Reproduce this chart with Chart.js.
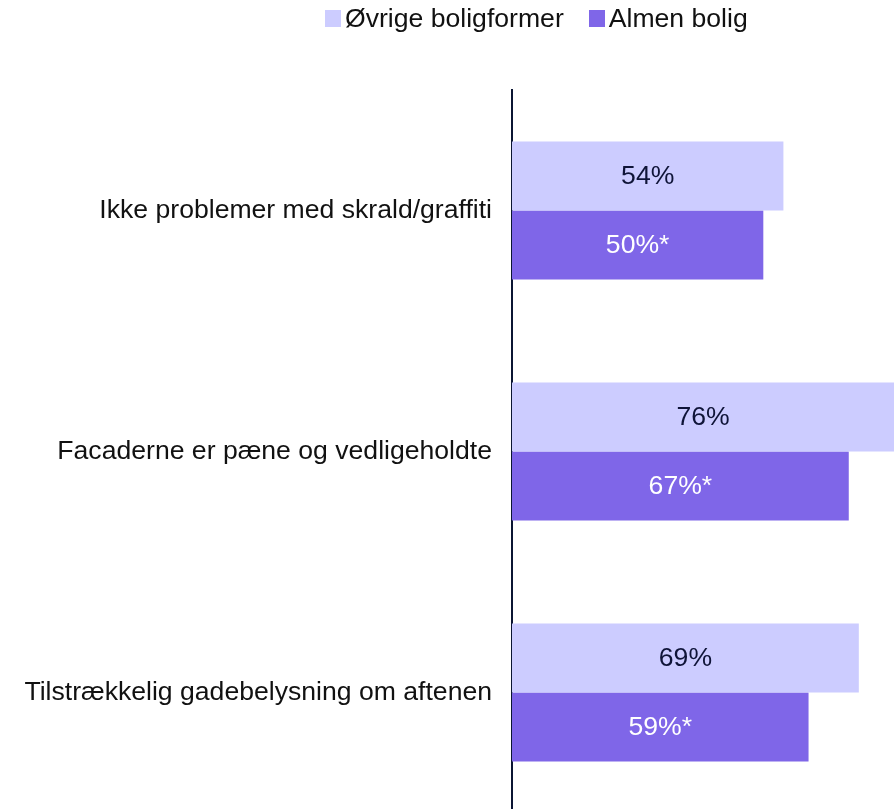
<!DOCTYPE html>
<html>
<head>
<meta charset="utf-8">
<script src="https://cdn.jsdelivr.net/npm/chart.js@4/dist/chart.umd.min.js"></script>
<style>
  html, body { margin: 0; padding: 0; background: #fff; overflow: hidden; }
  #wrap { position: relative; width: 894px; height: 813px; }
  #legend { position: absolute; left: 325px; top: 3px; display: flex; align-items: center;
    font-family: "Liberation Sans", Arial, sans-serif; font-size: 26.6px; color: #111; }
  #legend .item { display: flex; align-items: center; margin-right: 25px; }
  #legend .box { width: 16px; height: 17px; margin-right: 4px; }
</style>
</head>
<body>
<div id="wrap">
  <div id="legend"></div>
  <canvas id="chart" width="894" height="813"></canvas>
</div>
<script>
const categories = [
    'Ikke problemer med skrald/graffiti',
    'Facaderne er pæne og vedligeholdte',
    'Tilstrækkelig gadebelysning om aftenen'
];
const seriesNames = ['Øvrige boligformer', 'Almen bolig'];
const ovrige = [54, 76, 69];
const almen = [50, 67, 59];
const almenSuffix = ['*', '*', '*'];

const colors = ['#ccccff', '#7f66e8'];
const labelColors = ['#0f1438', '#ffffff'];
const suffixes = [['', '', ''], almenSuffix];

// legend as html
const legendEl = document.getElementById('legend');
seriesNames.forEach((name, i) => {
    const item = document.createElement('div');
    item.className = 'item';
    item.innerHTML = '<span class="box" style="background:' + colors[i] + '"></span><span>' + name + '</span>';
    legendEl.appendChild(item);
});

// values written in the middle of each bar
const barLabels = {
    id: 'barLabels',
    afterDatasetsDraw(chart) {
        const ctx = chart.ctx;
        ctx.save();
        ctx.font = '26.6px "Liberation Sans", Arial, sans-serif';
        ctx.textAlign = 'center';
        ctx.textBaseline = 'middle';
        chart.data.datasets.forEach((ds, i) => {
            const meta = chart.getDatasetMeta(i);
            meta.data.forEach((bar, j) => {
                const x = (bar.x + bar.base) / 2;
                ctx.fillStyle = labelColors[i];
                ctx.fillText(ds.data[j] + '%' + suffixes[i][j], x, bar.y + 1);
            });
        });
        ctx.restore();
    }
};

const ctx = document.getElementById('chart');
const myChart = new Chart(ctx, {
    type: 'bar',
    data: {
        labels: categories,
        datasets: [
            { label: seriesNames[0], data: ovrige, backgroundColor: colors[0] },
            { label: seriesNames[1], data: almen, backgroundColor: colors[1] }
        ]
    },
    options: {
        indexAxis: 'y',
        responsive: false,
        animation: false,
        categoryPercentage: 0.573,
        barPercentage: 1,
        layout: { padding: { top: 90, right: 0, bottom: 0, left: 0 } },
        plugins: {
            legend: { display: false },
            tooltip: { enabled: false }
        },
        scales: {
            x: { display: false, min: 0, max: 76 },
            y: {
                grid: { display: false, drawTicks: false },
                border: { display: true, color: '#0b1533', width: 2 },
                ticks: {
                    color: '#111',
                    padding: 20,
                    font: { family: '"Liberation Sans", Arial, sans-serif', size: 26.6 }
                },
                afterFit(scale) {
                    scale.width = 512;
                    scale.paddingTop = 0;
                    scale.paddingBottom = 0;
                }
            }
        }
    },
    plugins: [barLabels]
});
</script>
</body>
</html>
